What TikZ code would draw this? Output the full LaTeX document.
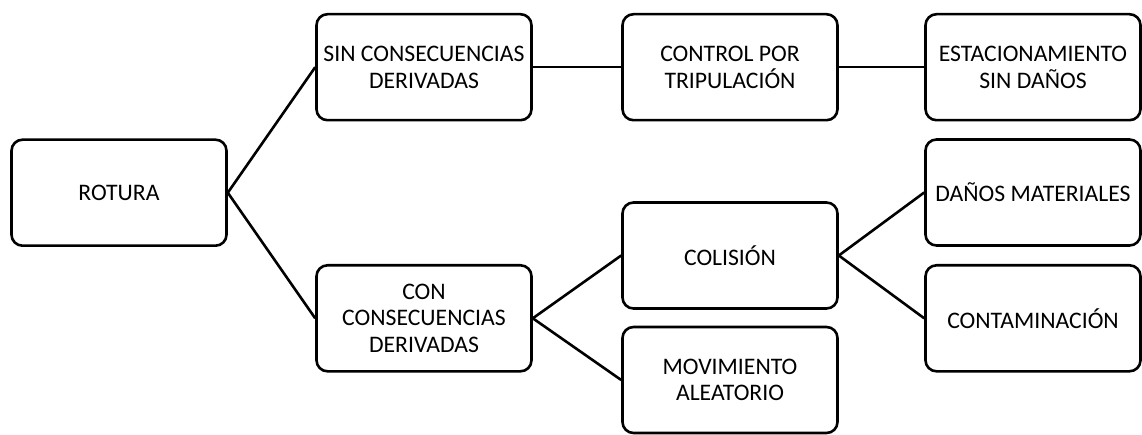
\documentclass[tikz,border=0pt]{standalone}
\usepackage{fontspec}
\setmainfont{Carlito}
\begin{document}
\begin{tikzpicture}[x=1pt,y=-1pt,
  box/.style={draw=black, line width=2.6pt, rounded corners=11pt,
    minimum width=215pt, minimum height=106pt, align=center,
    inner sep=2pt, font=\fontsize{23.7}{26.7}\selectfont},
  link/.style={draw=black, line width=2.6pt}]
\useasboundingbox (0,0) rectangle (1142,435);
\node[box] (rot)  at (119,192.7) {ROTURA};
\node[box] (sin)  at (424,67.2)  {SIN CONSECUENCIAS\\DERIVADAS};
\node[box] (ctl)  at (730,67.2)  {CONTROL POR\\TRIPULACIÓN};
\node[box] (est)  at (1033,67.2) {ESTACIONAMIENTO\\SIN DAÑOS};
\node[box] (con)  at (424,318.3) {CON\\CONSECUENCIAS\\DERIVADAS};
\node[box] (col)  at (730,255.5) {COLISIÓN};
\node[box] (mov)  at (730,380)   {MOVIMIENTO\\ALEATORIO};
\node[box] (dan)  at (1033,192.5) {DAÑOS MATERIALES};
\node[box] (cont) at (1033,318.3) {CONTAMINACIÓN};
\draw[link] (rot.east) -- (sin.west);
\draw[link] (rot.east) -- (con.west);
\draw[link] (sin.east) -- (ctl.west);
\draw[link] (ctl.east) -- (est.west);
\draw[link] (con.east) -- (col.west);
\draw[link] (con.east) -- (mov.west);
\draw[link] (col.east) -- (dan.west);
\draw[link] (col.east) -- (cont.west);
\end{tikzpicture}
\end{document}
